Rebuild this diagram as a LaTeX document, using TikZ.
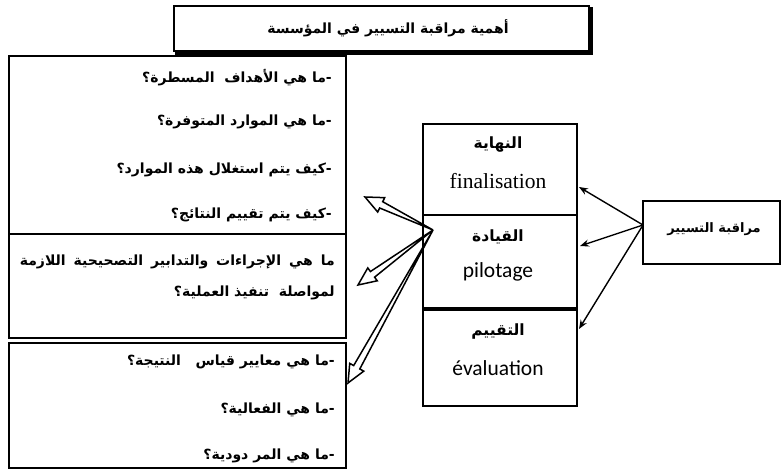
\documentclass[tikz,border=0pt]{standalone}
\usepackage{fontspec}
\setmainfont{Liberation Serif}
\newfontfamily\arabicfont[Script=Arabic]{DejaVu Sans}
\newfontfamily\calibfont{Carlito}
\TeXXeTstate=1
\usetikzlibrary{calc,arrows.meta}
\tikzset{
  box/.style={draw, line width=1.6pt, fill=white, inner sep=0pt, anchor=north west},
  ar/.style={inner sep=0pt, font=\arabicfont\bfseries\fontsize{14}{16}\selectfont},
  arc/.style={inner sep=0pt, font=\arabicfont\bfseries\fontsize{15.5}{17}\selectfont},
  lat/.style={inner sep=0pt, font=\fontsize{21.5}{24}\selectfont},
  latsans/.style={inner sep=0pt, font=\calibfont\fontsize{21.5}{24}\selectfont},
  thinarr/.style={line width=1.4pt, -{Stealth[length=9pt,width=7pt]}},
  hollow/.style={draw, line width=1.5pt, fill=white, line join=miter}
}
\newcommand\hollowarrow[2]{%
  \coordinate (#2b) at ($(#2)!18pt!(#1)$);
  \draw[hollow] (#1) -- ($(#2b)!3.5pt!90:(#2)$) -- ($(#2b)!8pt!90:(#2)$) -- (#2)
    -- ($(#2b)!8pt!-90:(#2)$) -- ($(#2b)!3.5pt!-90:(#2)$) -- cycle;}
\begin{document}
\begin{tikzpicture}[x=1pt,y=-1pt]
\useasboundingbox (0,0) rectangle (782,470);
% left boxes
\node[box, minimum width=337pt, minimum height=178pt] (q1) at (8,55) {};
\node[box, minimum width=337pt, minimum height=104pt] (q2) at (8,233) {};
\node[box, minimum width=337pt, minimum height=125pt] (q3) at (8,342) {};
% title with shadow
\node[box, minimum width=415pt, minimum height=45pt] (title) at (173,5) {};
\draw[line width=3pt] ($(title.south west)+(2,1.5)$) -- ($(title.south east)+(1.5,1.5)$) -- ($(title.north east)+(1.5,2)$);
\node[ar] (ttext) at (388,28) {\beginR أهمية مراقبة التسيير في المؤسسة\endR};
% box 1 text
\node[ar, anchor=east] (a1) at (332,78) {\beginR -ما هي الأهداف\ \ المسطرة؟\endR};
\node[ar, anchor=east] (a2) at (332,122) {\beginR -ما هي الموارد المتوفرة؟\endR};
\node[ar, anchor=east] (a3) at (332,170) {\beginR -كيف يتم استغلال هذه الموارد؟\endR};
\node[ar, anchor=east] (a4) at (332,215) {\beginR -كيف يتم تقييم النتائج؟\endR};
% box 2 text
\node[ar, anchor=east] (b1) at (335,262) {\hbox to 315pt{\beginR ما هي الإجراءات والتدابير التصحيحية اللازمة\endR}};
\node[ar, anchor=east] (b2) at (335,293) {\beginR لمواصلة\ \ تنفيذ العملية؟\endR};
% box 3 text
\node[ar, anchor=east] (c1) at (335,362) {\beginR -ما هي معايير قياس\ \ \ النتيجة؟\endR};
\node[ar, anchor=east] (c2) at (335,410) {\beginR -ما هي الفعالية؟\endR};
\node[ar, anchor=east] (c3) at (335,456) {\beginR -ما هي المر دودية؟\endR};
% middle boxes
\node[box, minimum width=154pt, minimum height=91pt] (fin) at (422,123) {};
\node[box, minimum width=154pt, minimum height=95pt] (pil) at (422,214) {};
\node[box, minimum width=154pt, minimum height=96pt] (eva) at (422,309) {};
\draw[line width=3.5pt] (eva.north west) -- (eva.north east);
\node[arc] (finar) at (498,145) {\beginR النهاية\endR};
\node[lat] (finla) at (498,181) {finalisation};
\node[arc] (pilar) at (498,237) {\beginR القيادة\endR};
\node[latsans] (pilla) at (498,272) {pilotage};
\node[arc] (evaar) at (498,332) {\beginR التقييم\endR};
\node[latsans] (evala) at (498,368) {évaluation};
% right box
\node[box, minimum width=137pt, minimum height=63pt] (ctrl) at (642,200) {};
\node[ar, font=\arabicfont\bfseries\fontsize{13}{15}\selectfont] (ctrltext) at (714,229) {\beginR مراقبة التسيير\endR};
% thin arrows
\coordinate (R) at (643,225);
\coordinate (tfin) at (579,187);
\coordinate (tpil) at (580,246);
\coordinate (teva) at (579,329);
\draw[thinarr] (R) -- (tfin);
\draw[thinarr] (R) -- (tpil);
\draw[thinarr] (R) -- (teva);
% hollow arrows
\coordinate (P) at (433,230);
\coordinate (h1) at (365,197);
\coordinate (h2) at (358,285);
\coordinate (h3) at (348,383);
\hollowarrow{P}{h3}
\hollowarrow{P}{h2}
\hollowarrow{P}{h1}
\end{tikzpicture}
\end{document}
